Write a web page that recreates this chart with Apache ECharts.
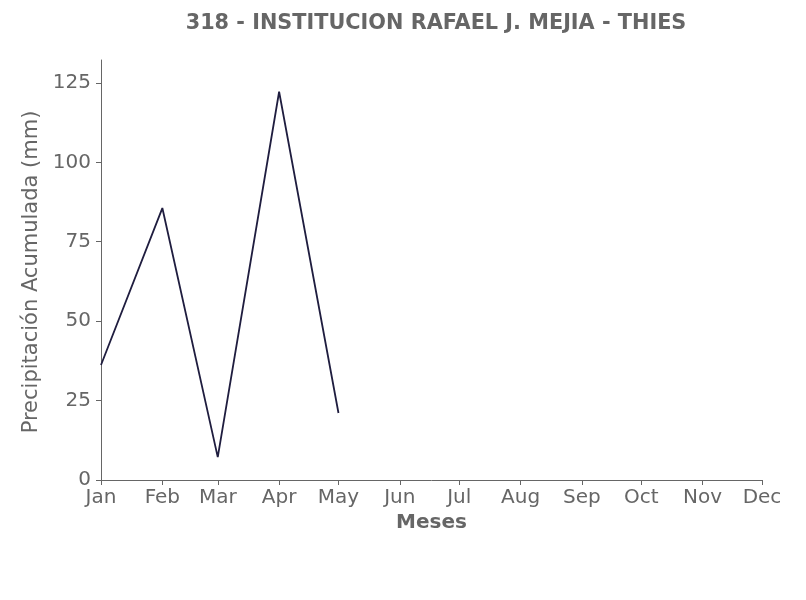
<!DOCTYPE html>
<html>
<head>
<meta charset="utf-8">
<script src="https://cdn.jsdelivr.net/npm/echarts@6/dist/echarts.min.js"></script>
<style>html,body{margin:0;padding:0;background:#fff;}#c{width:806px;height:600px;}</style>
</head>
<body>
<div id="c"></div>
<script>
const title = '318 - INSTITUCION RAFAEL J. MEJIA - THIES';
const dates = ['2023-01-01', '2023-02-01', '2023-03-01', '2023-04-01', '2023-05-01'];
const values = [36.2, 85.6, 7.2, 122.2, 21.1];
const monthLabels = ['Jan','Feb','Mar','Apr','May','Jun','Jul','Aug','Sep','Oct','Nov','Dec'];
const xMin = '2023-01-01';
const xMax = '2023-12-01';
const yTicks = [0, 25, 50, 75, 100, 125];

const chart = echarts.init(document.getElementById('c'), null, {renderer: 'canvas'});
const grey = '#666666';
const font = 'DejaVu Sans';
chart.setOption({
  animation: false,
  backgroundColor: '#ffffff',
  title: {
    text: title,
    left: 431, top: 8, textAlign: 'center',
    textStyle: {fontFamily: font, fontSize: 20.8, fontWeight: 'bold', color: grey}
  },
  grid: {left: 101, right: 44, top: 60, bottom: 120, containLabel: false},
  xAxis: {
    type: 'time',
    min: xMin, max: xMax,
    minInterval: 28 * 86400000,
    maxInterval: 31 * 86400000,
    name: 'Meses', nameLocation: 'middle', nameGap: 33,
    nameTextStyle: {fontFamily: font, fontSize: 20, fontWeight: 'bold', color: grey},
    axisLine: {show: true, lineStyle: {color: grey, width: 1}},
    axisTick: {show: true, length: 5, lineStyle: {color: grey}},
    splitLine: {show: false},
    axisLabel: {
      fontFamily: font, fontSize: 20, color: grey, margin: 8,
      showMinLabel: true, showMaxLabel: true, hideOverlap: false,
      formatter: function (v) { return monthLabels[new Date(v).getMonth()]; }
    }
  },
  yAxis: {
    type: 'value', min: 0, max: 132.2, interval: 25,
    name: 'Precipitación Acumulada (mm)', nameLocation: 'middle', nameGap: 56,
    nameTextStyle: {fontFamily: font, fontSize: 21, color: grey, padding: [0, 4, 0, 0]},
    axisLine: {show: true, lineStyle: {color: grey, width: 1}},
    axisTick: {show: true, length: 5, lineStyle: {color: grey}},
    splitLine: {show: false},
    axisLabel: {
      fontFamily: font, fontSize: 20, color: grey, margin: 10, showMaxLabel: false,
      padding: [6, 0, 0, 0],
      formatter: function (v) { return yTicks.indexOf(v) >= 0 ? String(v) : ''; }
    }
  },
  series: [{
    type: 'line',
    data: dates.map((d, i) => [d, values[i]]),
    showSymbol: false,
    lineStyle: {color: '#1f1d3f', width: 1.8},
    itemStyle: {color: '#1f1d3f'}
  }]
});
</script>
</body>
</html>
